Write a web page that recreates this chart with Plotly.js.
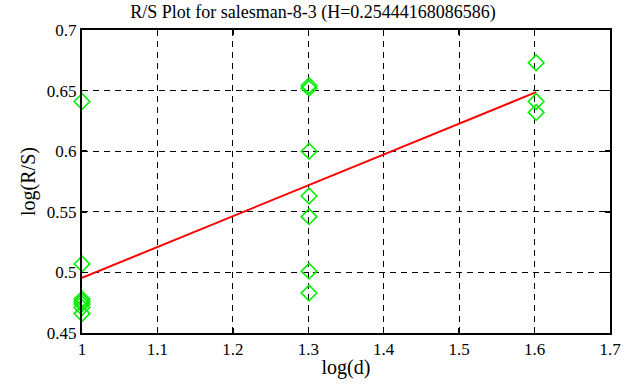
<!DOCTYPE html>
<html>
<head>
<meta charset="utf-8">
<script src="https://cdn.plot.ly/plotly-3.0.1.min.js"></script>
<style>html,body{margin:0;padding:0;background:#fff;}#chart{width:626px;height:387px;}</style>
</head>
<body>
<div id="chart"></div>
<script>
// Data points (log(d), log(R/S))
const pointsX = [1, 1, 1, 1, 1, 1, 1,
                 1.30103, 1.30103, 1.30103, 1.30103, 1.30103, 1.30103, 1.30103,
                 1.60206, 1.60206, 1.60206];
const pointsY = [0.641, 0.507, 0.478, 0.476, 0.474, 0.471, 0.466,
                 0.654, 0.652, 0.600, 0.563, 0.546, 0.501, 0.483,
                 0.673, 0.641, 0.632];
// Fitted line
const lineX = [1, 1.60206];
const lineY = [0.4955, 0.6487];
const xTicks = [1, 1.1, 1.2, 1.3, 1.4, 1.5, 1.6, 1.7];
const yTicks = [0.45, 0.5, 0.55, 0.6, 0.65, 0.7];

const fam = 'Liberation Serif';
const tickFont = {family: fam, color: '#000', size: 17};
const titleFont = {family: fam, color: '#000', size: 20};

const traces = [
  {x: lineX, y: lineY, type: 'scatter', mode: 'lines',
   line: {color: '#ff0000', width: 2}, showlegend: false, hoverinfo: 'skip'},
  {x: pointsX, y: pointsY, type: 'scatter', mode: 'markers', cliponaxis: false,
   marker: {symbol: 'diamond-open', size: 12, color: '#00ee00', line: {width: 1.6, color: '#00ee00'}},
   showlegend: false, hoverinfo: 'skip'}
];

const axisCommon = {
  showline: true, linecolor: '#000', linewidth: 2, mirror: 'allticks',
  ticks: 'inside', ticklen: 5, tickcolor: '#000', tickwidth: 1.5,
  showgrid: true, gridcolor: '#000', gridwidth: 1, griddash: '6px,5px',
  zeroline: false,
  tickfont: {family: fam, color: '#000', size: 17}
};

const layout = {
  width: 626, height: 387,
  margin: {l: 82, r: 16, t: 30, b: 54},
  paper_bgcolor: '#fff', plot_bgcolor: '#fff',
  font: {family: fam, color: '#000', size: 17},
  title: {text: 'R/S Plot for salesman-8-3 (H=0.25444168086586)', font: {family: fam, size: 18, color: '#000'},
          x: 0.5, xanchor: 'center', yref: 'container', y: 1 - 12 / 387, yanchor: 'middle'},
  xaxis: Object.assign({}, axisCommon, {
    range: [1, 1.7], tickvals: xTicks, ticktext: xTicks.map(String),
    title: {text: 'log(d)', font: titleFont, standoff: 2}
  }),
  yaxis: Object.assign({}, axisCommon, {
    range: [0.45, 0.7], tickvals: yTicks, ticktext: yTicks.map(String),
    title: {text: 'log(R/S)', font: titleFont, standoff: 6}
  })
};

Plotly.newPlot('chart', traces, layout, {staticPlot: true, displayModeBar: false});
</script>
</body>
</html>
